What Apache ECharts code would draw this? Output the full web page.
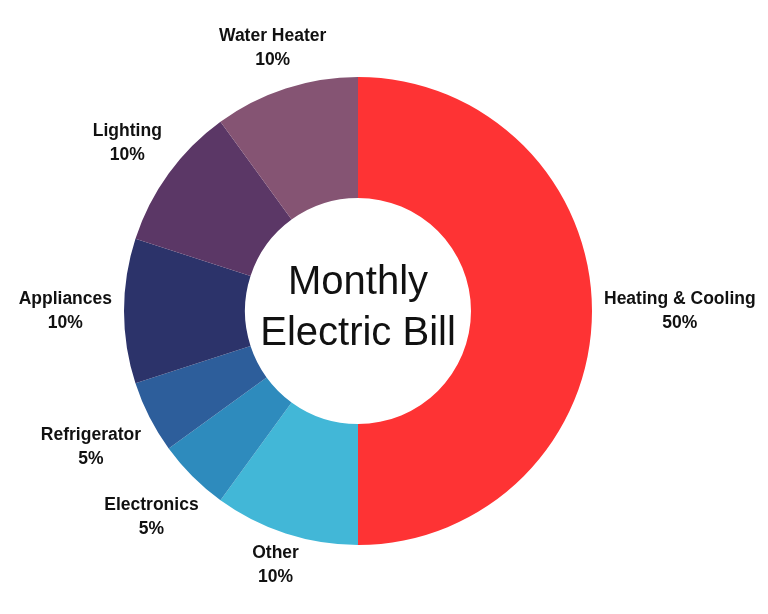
<!DOCTYPE html>
<html>
<head>
<meta charset="utf-8">
<script src="https://cdn.jsdelivr.net/npm/echarts@6/dist/echarts.min.js"></script>
<style>
  html, body { margin: 0; padding: 0; background: #fff; }
  #chart { width: 768px; height: 614px; }
</style>
</head>
<body>
<div id="chart"></div>
<script>
// 数据
const categories = ['Heating & Cooling', 'Other', 'Electronics', 'Refrigerator', 'Appliances', 'Lighting', 'Water Heater']
const shares = [50, 10, 5, 5, 10, 10, 10]
const colors = ['#FE3334', '#42B7D7', '#2E8BBD', '#2D5E9B', '#2C336A', '#5B3766', '#855473']

const CX = 358
const CY = 311
const R_IN = 113
const R_OUT = 234
const GAP_X = 12
const GAP_Y = -1
const FONT = '"Liberation Sans", Arial, Helvetica, sans-serif'

const total = shares.reduce((a, b) => a + b, 0)

// 标签放在扇区中线方向, 居中
const placeLabel = (params) => {
  const i = params.dataIndex
  let before = 0
  for (let k = 0; k < i; k++) before += shares[k]
  const a = (before + shares[i] / 2) / total * Math.PI * 2
  const dx = Math.sin(a)
  const dy = -Math.cos(a)
  const w = params.labelRect.width
  const h = params.labelRect.height
  const gap = Math.abs(dx) * GAP_X + Math.abs(dy) * GAP_Y
  const dist = R_OUT + gap + Math.abs(dx) * w / 2 + Math.abs(dy) * h / 2
  return {
    x: CX + dx * dist,
    y: CY + dy * dist,
    align: 'center',
    verticalAlign: 'middle'
  }
}

const myChart = echarts.init(document.getElementById('chart'))
myChart.setOption({
  animation: false,
  color: colors,
  graphic: [
    {
      type: 'text',
      x: CX,
      y: CY - 3,
      style: {
        text: 'Monthly\nElectric Bill',
        fontFamily: FONT,
        fontSize: 40,
        lineHeight: 51,
        fill: '#111',
        align: 'center',
        verticalAlign: 'middle'
      }
    }
  ],
  series: [
    {
      type: 'pie',
      center: [CX, CY],
      radius: [R_IN, R_OUT],
      startAngle: 90,
      clockwise: true,
      label: {
        show: true,
        position: 'outside',
        formatter: '{b}\n{c}%',
        fontFamily: FONT,
        fontSize: 17.5,
        fontWeight: 'bold',
        lineHeight: 24,
        color: '#111',
        overflow: 'none'
      },
      labelLine: { show: false },
      labelLayout: placeLabel,
      data: categories.map((name, i) => ({ name, value: shares[i] }))
    }
  ]
})
</script>
</body>
</html>
